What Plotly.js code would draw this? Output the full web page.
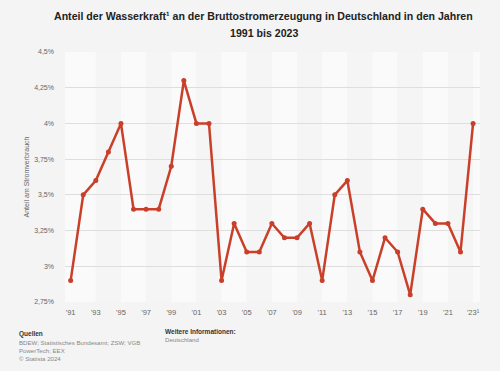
<!DOCTYPE html>
<html><head><meta charset="utf-8">
<script src="https://cdn.plot.ly/plotly-3.0.1.min.js"></script>
<style>html,body{margin:0;padding:0;background:#f4f4f4;}#chart{width:500px;height:371px;}</style>
</head><body><div id="chart"></div>
<script>
const years = [1991,1992,1993,1994,1995,1996,1997,1998,1999,2000,2001,2002,2003,2004,2005,2006,2007,2008,2009,2010,2011,2012,2013,2014,2015,2016,2017,2018,2019,2020,2021,2022,2023];
const shares = [2.9,3.5,3.6,3.8,4.0,3.4,3.4,3.4,3.7,4.3,4.0,4.0,2.9,3.3,3.1,3.1,3.3,3.2,3.2,3.3,2.9,3.5,3.6,3.1,2.9,3.2,3.1,2.8,3.4,3.3,3.3,3.1,4.0];
const tickYears = [1991,1993,1995,1997,1999,2001,2003,2005,2007,2009,2011,2013,2015,2017,2019,2021,2023];
const tickLabels = ["'91","'93","'95","'97","'99","'01","'03","'05","'07","'09","'11","'13","'15","'17","'19","'21","'23¹"];
const yTicks = [2.75,3,3.25,3.5,3.75,4,4.25,4.5];
const yTickLabels = ["2,75%","3%","3,25%","3,5%","3,75%","4%","4,25%","4,5%"];
const titleLines = ["Anteil der Wasserkraft¹ an der Bruttostromerzeugung in Deutschland in den Jahren", "1991 bis 2023"];

const xmin = years[0]-0.45, xmax = years[years.length-1]+0.55;
const shapes = [];
for (let i = 0; i < tickYears.length; i++) {
  const x0 = i === 0 ? xmin : tickYears[i];
  const x1 = i+1 < tickYears.length ? tickYears[i+1] : xmax;
  shapes.push({type:'rect',xref:'x',yref:'paper',x0:x0,x1:x1,y0:0,y1:1,
    fillcolor:(i%2===0)?'#fafafa':'#f5f5f5',line:{width:0},layer:'below'});
}

const trace = {x: years, y: shares, type:'scatter', mode:'lines+markers',
  line:{color:'#c93f2a', width:2.5}, marker:{color:'#c93f2a', size:5}, hoverinfo:'skip'};

const gray = '#666';
const tfont = {family:'Liberation Sans, Arial, sans-serif', size:10.6, color:'#222', weight:'bold'};
const layout = {
  width:500, height:371,
  paper_bgcolor:'#f4f4f4', plot_bgcolor:'#f4f4f4',
  margin:{l:65, r:20, t:52, b:69},
  showlegend:false,
  font:{family:'Liberation Sans, Arial, sans-serif', size:7, color:gray},
  xaxis:{range:[xmin,xmax], tickvals:tickYears, ticktext:tickLabels, showgrid:false, zeroline:false,
    showline:false, ticks:'', ticklabelstandoff:4, tickfont:{size:7.5,color:gray}, fixedrange:true},
  yaxis:{range:[2.75,4.5], tickvals:yTicks, ticktext:yTickLabels, showgrid:true, gridcolor:'#dedede', gridwidth:1,
    zeroline:false, showline:false, ticks:'', ticklabelstandoff:10, tickfont:{size:7,color:gray},
    title:{text:'Anteil am Stromverbrauch', font:{size:7,color:gray}, standoff:3}, fixedrange:true},
  shapes: shapes,
  annotations:[
    {text:'<b>'+titleLines[0]+'</b>', xref:'paper', yref:'paper', x:0.479, y:(302-16)/250, xanchor:'center', yanchor:'middle', showarrow:false, font:tfont},
    {text:'<b>'+titleLines[1]+'</b>', xref:'paper', yref:'paper', x:0.479, y:(302-33)/250, xanchor:'center', yanchor:'middle', showarrow:false, font:tfont},
    {text:'<b>Quellen</b>', xref:'paper', yref:'paper', x:-0.116, y:-0.105, xanchor:'left', yanchor:'top', showarrow:false, font:{size:6.5,color:'#333'}, align:'left'},
    {text:'BDEW; Statistisches Bundesamt; ZSW; VGB<br>PowerTech; EEX<br>© Statista 2024', xref:'paper', yref:'paper', x:-0.116, y:-0.14, xanchor:'left', yanchor:'top', showarrow:false, font:{size:6.1,color:'#888'}, align:'left'},
    {text:'<b>Weitere Informationen:</b>', xref:'paper', yref:'paper', x:0.236, y:-0.095, xanchor:'left', yanchor:'top', showarrow:false, font:{size:6.5,color:'#333'}, align:'left'},
    {text:'Deutschland', xref:'paper', yref:'paper', x:0.236, y:-0.128, xanchor:'left', yanchor:'top', showarrow:false, font:{size:6.1,color:'#888'}, align:'left'}
  ]
};
Plotly.newPlot('chart', [trace], layout, {displayModeBar:false, staticPlot:true});
</script></body></html>
